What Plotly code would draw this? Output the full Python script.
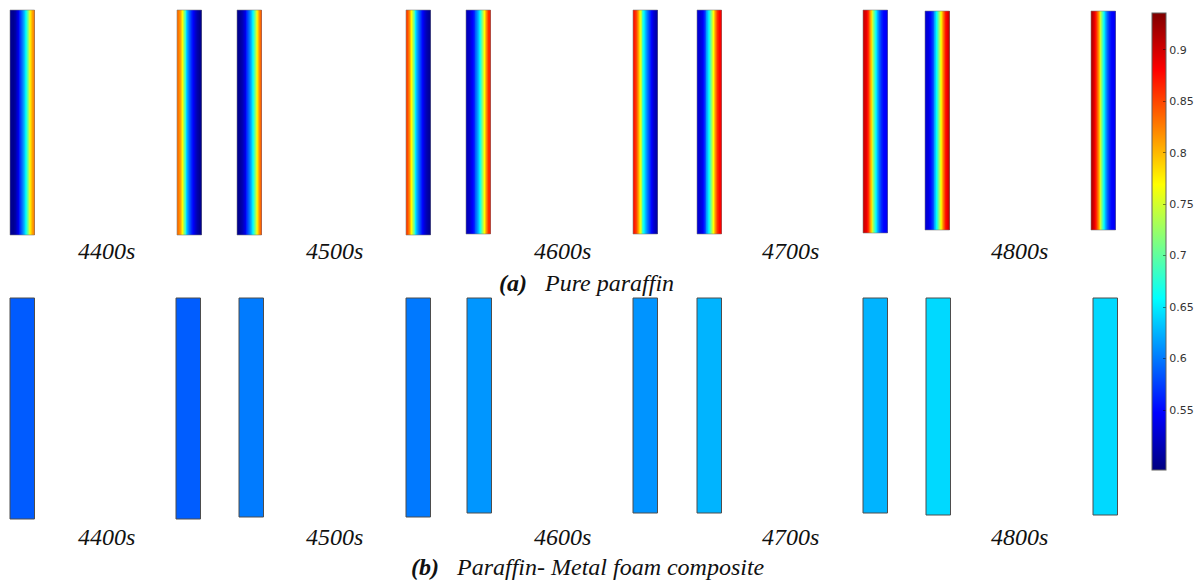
import numpy as np
import plotly.graph_objects as go

# ---------------- data ----------------
time_labels = ["4400s", "4500s", "4600s", "4700s", "4800s"]

# Pure paraffin: liquid-fraction/temperature profile across each strip,
# sampled from the heated wall (first value) to the far side (last value)
pure_p01 = [0.83, 0.81, 0.78, 0.72, 0.67, 0.63, 0.60, 0.575, 0.55, 0.53, 0.51, 0.50, 0.50]
pure_p02 = [0.83, 0.81, 0.77, 0.71, 0.66, 0.62, 0.59, 0.565, 0.545, 0.525, 0.51, 0.50, 0.50]
pure_p03 = [0.85, 0.82, 0.78, 0.72, 0.67, 0.63, 0.60, 0.575, 0.55, 0.53, 0.515, 0.505, 0.50]
pure_p04 = [0.85, 0.82, 0.77, 0.72, 0.67, 0.63, 0.60, 0.575, 0.55, 0.53, 0.515, 0.505, 0.50]
pure_p05 = [0.87, 0.86, 0.82, 0.77, 0.72, 0.67, 0.63, 0.60, 0.575, 0.555, 0.54, 0.525, 0.52]
pure_p06 = [0.87, 0.85, 0.81, 0.76, 0.71, 0.665, 0.63, 0.60, 0.575, 0.55, 0.53, 0.515, 0.51]
pure_p07 = [0.88, 0.88, 0.86, 0.82, 0.77, 0.72, 0.67, 0.63, 0.60, 0.565, 0.54, 0.53, 0.53]
pure_p08 = [0.90, 0.89, 0.86, 0.81, 0.77, 0.72, 0.67, 0.625, 0.59, 0.565, 0.55, 0.545, 0.54]
pure_p09 = [0.91, 0.89, 0.87, 0.83, 0.78, 0.73, 0.68, 0.635, 0.60, 0.57, 0.55, 0.535, 0.53]
pure_p10 = [0.91, 0.89, 0.86, 0.82, 0.77, 0.72, 0.67, 0.625, 0.59, 0.565, 0.55, 0.545, 0.54]
pure_profiles = [pure_p01, pure_p02, pure_p03, pure_p04, pure_p05,
                 pure_p06, pure_p07, pure_p08, pure_p09, pure_p10]
pure_hot_side = ["right", "left"] * 5

# Paraffin - metal foam composite: uniform value per strip
composite_values = [0.587, 0.588, 0.601, 0.600, 0.613, 0.612, 0.626, 0.626, 0.642, 0.642]

colorbar_ticks = [0.55, 0.6, 0.65, 0.7, 0.75, 0.8, 0.85, 0.9]
cmin, cmax = 0.492, 0.936

# ---------------- layout (pixel frame of the figure) ----------------
W = 24.5
top_left = [10, 177, 237, 406, 466, 633, 697, 863, 925, 1091]
top_y0 = [10, 10, 10, 10, 10, 10, 10, 10, 11, 11]
top_y1 = [235, 235, 235, 235, 234, 234, 234, 233, 230, 230]
bot_left = [10, 176, 239, 406, 467, 633, 697, 863, 926, 1093]
bot_y0 = [298] * 10
bot_y1 = [519, 519, 517, 517, 513, 513, 513, 513, 515, 515]
label_x = [106, 334, 562, 790, 1019]

jet = [[0, "rgb(0,0,128)"], [0.125, "rgb(0,0,255)"], [0.375, "rgb(0,255,255)"],
       [0.625, "rgb(255,255,0)"], [0.875, "rgb(255,0,0)"], [1, "rgb(128,0,0)"]]

fig = go.Figure()

cbar = dict(
    x=1152 / 1204, xanchor="left", xpad=0,
    y=1 - 12.7 / 586, yanchor="top", ypad=0,
    len=457, lenmode="pixels", thickness=14, thicknessmode="pixels",
    outlinewidth=1, outlinecolor="#606060",
    tickvals=colorbar_ticks, ticks="inside", ticklen=3, tickcolor="rgba(0,0,0,0.45)",
    tickfont=dict(family="DejaVu Sans", size=11, color="#333333"),
)

for i, prof in enumerate(pure_profiles):
    row = prof[::-1] if pure_hot_side[i] == "right" else list(prof)
    L = top_left[i]
    xe = L + W * np.linspace(0, 1, len(row) + 1)
    ye = [top_y0[i], (top_y0[i] + top_y1[i]) / 2, top_y1[i]]
    fig.add_trace(go.Heatmap(
        x=xe, y=ye, z=[row, row], zsmooth="best",
        colorscale=jet, zmin=cmin, zmax=cmax,
        showscale=(i == 0), colorbar=cbar, hoverinfo="skip"))
    fig.add_shape(type="rect", x0=L, x1=L + W, y0=top_y0[i], y1=top_y1[i],
                  line=dict(color="rgba(120,120,120,0.55)", width=1))

fig.add_trace(go.Bar(
    x=[L + W / 2 for L in bot_left],
    y=[b - t for t, b in zip(bot_y0, bot_y1)],
    base=bot_y0, width=W,
    marker=dict(color=composite_values, colorscale=jet, cmin=cmin, cmax=cmax,
                showscale=False, line=dict(color="#4d4d4d", width=1)),
    hoverinfo="skip"))

serif = dict(family="Liberation Serif", size=24, color="#111111")
for lx, t in zip(label_x, time_labels):
    fig.add_annotation(x=lx, y=251, text=f"<i>{t}</i>", showarrow=False,
                       font=serif, xanchor="center", yanchor="middle")
    fig.add_annotation(x=lx, y=537, text=f"<i>{t}</i>", showarrow=False,
                       font=serif, xanchor="center", yanchor="middle")

fig.add_annotation(x=586, y=283, text="<b><i>(a)</i></b>   <i>Pure paraffin</i>",
                   showarrow=False, font=serif, xanchor="center", yanchor="middle")
fig.add_annotation(x=588, y=567, text="<b><i>(b)</i></b>   <i>Paraffin- Metal foam composite</i>",
                   showarrow=False, font=serif, xanchor="center", yanchor="middle")

fig.update_layout(
    width=1204, height=586, margin=dict(l=0, r=0, t=0, b=0),
    paper_bgcolor="white", plot_bgcolor="white", showlegend=False,
    xaxis=dict(range=[0, 1204], visible=False, fixedrange=True),
    yaxis=dict(range=[586, 0], visible=False, fixedrange=True),
)

fig.write_html("out.html", config={"displayModeBar": False},
               post_script="document.body.style.margin='0px';document.body.style.overflow='hidden';")
